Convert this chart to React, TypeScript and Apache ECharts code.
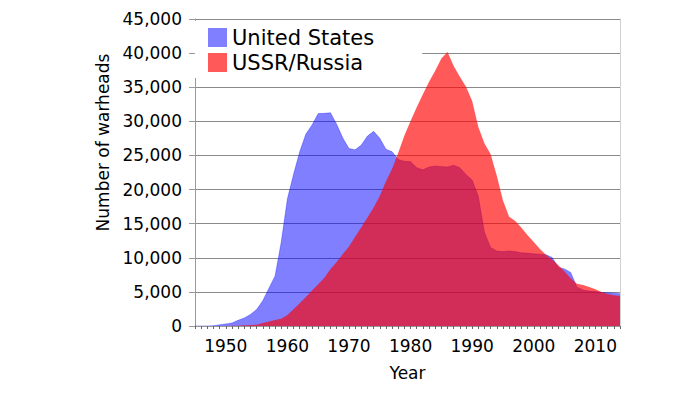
import React, { useEffect, useRef } from "react";
import * as echarts from "echarts";

const years: string[] = Array.from({ length: 70 }, (_, i) => String(1945 + i));

const unitedStates = [
  2, 9, 13, 50, 170, 299, 438, 841, 1169, 1703,
  2422, 3692, 5543, 7345, 12298, 18638, 22229, 25540, 28133, 29463,
  31139, 31175, 31255, 29561, 27552, 26008, 25830, 26516, 27835, 28537,
  27519, 25914, 25542, 24418, 24138, 24104, 23208, 22886, 23305, 23459,
  23368, 23317, 23575, 23205, 22217, 21392, 19008, 13708, 11511, 10979,
  10904, 11011, 10903, 10732, 10685, 10577, 10526, 10457, 10027, 8570,
  8360, 7853, 5709, 5273, 5113, 5066, 4897, 4881, 4804, 4717,
];

const ussrRussia = [
  0, 0, 0, 0, 1, 5, 25, 50, 120, 150,
  200, 426, 660, 869, 1060, 1605, 2471, 3322, 4238, 5221,
  6129, 7089, 8339, 9399, 10538, 11643, 13092, 14478, 15915, 17385,
  19055, 21205, 23044, 25393, 27935, 30062, 32049, 33952, 35804, 37431,
  39197, 40159, 38107, 36538, 35078, 32980, 29154, 26734, 25157, 22024,
  18403, 16000, 15400, 14400, 13300, 12300, 11300, 10400, 9700, 8900,
  8000, 7000, 6200, 6000, 5700, 5400, 5000, 4700, 4500, 4400,
];

const seriesNames = ["United States", "USSR/Russia"];
const yMax = 45000;
const yStep = 5000;

const FONT = "DejaVu Sans";

export default function App() {
  const ref = useRef<HTMLDivElement>(null);
  useEffect(() => {
    const chart = echarts.init(ref.current!, null, { renderer: "svg" });
    chart.setOption({
      animation: false,
      backgroundColor: "#ffffff",
      textStyle: { fontFamily: FONT },
      grid: { left: 195, right: 80, top: 19, height: 307 },
      legend: {
        orient: "vertical",
        left: 195,
        top: 21,
        padding: [6, 48, 5, 13],
        backgroundColor: "#ffffff",
        itemWidth: 19,
        itemHeight: 19,
        itemGap: 4,
        textStyle: { fontFamily: FONT, fontSize: 21, color: "#000" },
        data: [
          { name: seriesNames[0], icon: "rect" },
          { name: seriesNames[1], icon: "rect" },
        ],
      },
      xAxis: {
        type: "category",
        data: years,
        boundaryGap: false,
        name: "Year",
        nameLocation: "middle",
        nameGap: 38,
        nameTextStyle: { fontFamily: FONT, fontSize: 17, color: "#000" },
        axisLine: { show: true, lineStyle: { color: "#999", width: 1 } },
        axisTick: {
          show: true,
          interval: 0,
          length: 3,
          lineStyle: { color: "#666" },
        },
        axisLabel: {
          interval: (_i: number, v: string) => Number(v) % 10 === 0,
          margin: 11,
          fontFamily: FONT,
          fontSize: 17,
          color: "#000",
        },
        splitLine: { show: false },
      },
      yAxis: [
        {
          type: "value",
          min: 0,
          max: yMax,
          interval: yStep,
          name: "Number of warheads",
          nameLocation: "middle",
          nameGap: 84,
          nameTextStyle: {
            fontFamily: FONT,
            fontSize: 17,
            color: "#000",
            padding: [0, 0, 0, 60],
          },
          axisLine: { show: true, lineStyle: { color: "#999", width: 1 } },
          axisTick: { show: true, length: 6, lineStyle: { color: "#999" } },
          axisLabel: {
            margin: 13,
            fontFamily: FONT,
            fontSize: 17,
            color: "#000",
            formatter: (v: number) => v.toLocaleString("en-US"),
          },
          splitLine: { show: true, lineStyle: { color: "#8a8a8a", width: 1 } },
        },
        {
          type: "value",
          min: 0,
          max: yMax,
          interval: yStep,
          position: "right",
          axisLine: { show: true, lineStyle: { color: "#d0d0d0", width: 1 } },
          axisTick: { show: false },
          axisLabel: { show: false },
          splitLine: { show: false },
        },
      ],
      series: [
        {
          name: seriesNames[0],
          type: "line",
          data: unitedStates,
          showSymbol: false,
          symbol: "none",
          lineStyle: { width: 0.6, color: "rgba(0,0,255,0.5)" },
          itemStyle: { color: "rgba(0,0,255,0.5)" },
          areaStyle: { color: "rgba(0,0,255,0.5)", opacity: 1 },
          z: 2,
        },
        {
          name: seriesNames[1],
          type: "line",
          data: ussrRussia,
          showSymbol: false,
          symbol: "none",
          lineStyle: { width: 0 },
          itemStyle: { color: "rgba(255,0,0,0.65)" },
          areaStyle: { color: "rgba(255,0,0,0.65)", opacity: 1 },
          z: 3,
        },
      ],
    });
    return () => chart.dispose();
  }, []);
  return (
    <div
      ref={ref}
      style={{ position: "fixed", left: 0, top: 0, width: 700, height: 398, background: "#fff" }}
    />
  );
}
